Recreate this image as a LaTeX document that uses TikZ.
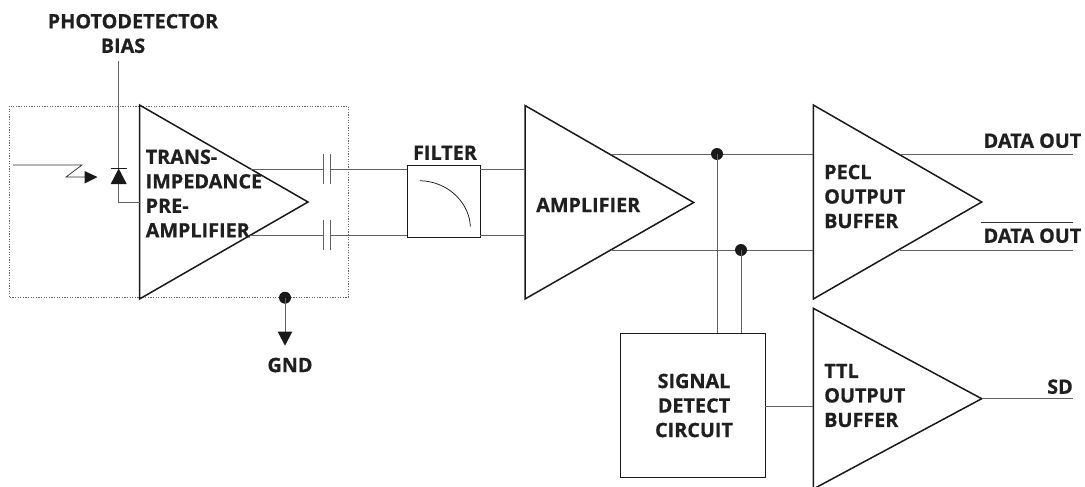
\documentclass[tikz,border=0pt]{standalone}
\usepackage{fontspec}
\setmainfont{Open Sans}[BoldFeatures={FakeBold=0.6}]
\tikzset{
  wire/.style={draw=black!62,line width=1pt},
  tri/.style={draw=black!90,line width=1.5pt,line join=miter},
  blockbox/.style={draw=black!90,line width=1.5pt,inner sep=0pt},
  lab/.style={font=\fontsize{19.8}{24.5}\selectfont\bfseries,text=black!88,inner sep=0pt,align=left},
  labc/.style={lab,align=center},
  dot/.style={circle,fill=black!90,inner sep=0pt,minimum size=12pt},
}
\begin{document}
\begin{tikzpicture}[x=1pt,y=-1pt]
\useasboundingbox (0,0) rectangle (1085,487);
\draw[black!60,line width=0.9pt,dash pattern=on 1.2pt off 1.4pt] (9,106) rectangle (348,297.5);
\node[labc] (pd) at (133,33.5) {PHOTODETECTOR\\\hspace*{-20pt}BIAS};
\coordinate (biastop) at (118.7,61);
\coordinate (diodetop) at (118.7,168.5);
\coordinate (diodeout) at (118.7,184);
\coordinate (t1in) at (139.5,202);
\draw[tri] (139.5,105) -- (139.5,299) -- (308,202) -- cycle;
\draw[tri] (525,105.5) -- (525,299) -- (693.7,202.5) -- cycle;
\draw[tri] (813.3,105) -- (813.3,299) -- (981.7,202) -- cycle;
\draw[tri] (813.3,308.3) -- (813.3,489) -- (981.7,398.7) -- cycle;
\draw[wire] (biastop) -- (diodetop);
\draw[wire] (diodeout) |- (t1in);
\fill[black!90] (diodetop) -- (110.7,184) -- (126.7,184) -- cycle;
\draw[black!90,line width=0.8pt] (110.7,168.5) -- (126.7,168.5);
\draw[black!80,line width=0.75pt] (13,165) -- (82,165) -- (66,177) -- (86,177);
\fill[black!90] (84.5,171) -- (97.5,177) -- (84.5,183.5) -- cycle;
\node[blockbox,minimum width=73pt,minimum height=72pt] (flt) at (443.8,201.7) {};
\foreach \yy in {169,235}{
  \draw[wire] (250,\yy) -- (323.7,\yy);
  \draw[wire] (330,\yy) -- (407.3,\yy);
  \draw[wire] (323.7,\yy-15) -- (323.7,\yy+15);
  \draw[wire] (330,\yy-15) -- (330,\yy+15);
  \draw[wire] (480.3,\yy) -- (525,\yy);
}
\draw[black!90,line width=0.75pt] (420,180.7) .. controls (450,181.5) and (470,205) .. (470.3,226.7);
\node[labc] (ft) at (445,152.7) {FILTER};
\node[blockbox,minimum width=144.6pt,minimum height=144.4pt] (sd) at (693,405.5) {};
\draw[wire] (611.7,154) -- (813.3,154);
\draw[wire] (611.7,250) -- (813.3,250);
\node[dot] (d1) at (717,154) {};
\node[dot] (d2) at (741,250) {};
\draw[wire] (d1.center) -- (717,333.3);
\draw[wire] (d2.center) -- (741,333.3);
\draw[wire] (765.3,406) -- (813.3,406);
\draw[wire] (900,154) -- (1073,154);
\draw[wire] (900,250) -- (1073,250);
\draw[black!80,line width=0.8pt] (980.7,222.3) -- (1073,222.3);
\draw[wire] (981.7,398.7) -- (1073,398.7);
\node[dot] (g) at (285,297.7) {};
\draw[wire] (g.center) -- (285,333);
\fill[black!90] (277.7,331.7) -- (292.3,331.7) -- (285,345.7) -- cycle;
\node[lab,anchor=west] at (145.5,193.5) {TRANS-\\IMPEDANCE\\PRE-\\AMPLIFIER};
\node[lab,anchor=west] at (536,205) {AMPLIFIER};
\node[lab,anchor=west] at (824,196.5) {PECL\\OUTPUT\\BUFFER};
\node[lab,anchor=east] at (1081.5,140.7) {DATA OUT};
\node[lab,anchor=east] at (1081.5,235.7) {DATA OUT};
\node[lab,anchor=west] at (824,395.5) {TTL\\OUTPUT\\BUFFER};
\node[labc] at (694,405.5) {SIGNAL\\DETECT\\CIRCUIT};
\node[lab,anchor=east] at (1073,386.7) {SD};
\node[labc] at (290,365) {GND};
\end{tikzpicture}
\end{document}
